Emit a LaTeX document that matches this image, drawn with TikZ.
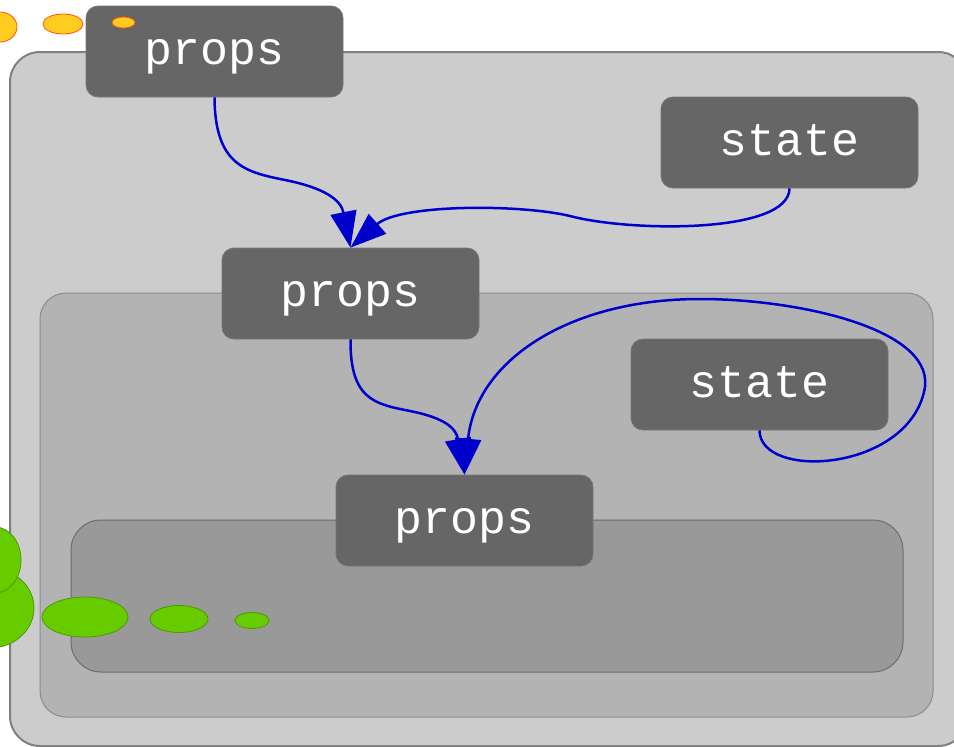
\documentclass[tikz,border=0pt]{standalone}
\usepackage{fontspec}
\setmonofont{Liberation Mono}
\usetikzlibrary{arrows.meta}
\definecolor{boxA}{HTML}{CCCCCC}
\definecolor{boxB}{HTML}{B3B3B3}
\definecolor{boxC}{HTML}{999999}
\definecolor{nodefill}{HTML}{666666}
\definecolor{edgeblue}{HTML}{0000CC}
\definecolor{grn}{HTML}{66CC00}
\definecolor{grnline}{HTML}{4C9A00}
\definecolor{ylw}{HTML}{FFCC22}
\definecolor{ylwline}{HTML}{FF5500}
\tikzset{
  label/.style={rectangle, fill=nodefill, draw=nodefill!90!white, line width=0.8pt,
    rounded corners=12pt, minimum width=257pt, minimum height=91pt, inner sep=0pt,
    text height=32pt, text depth=6pt,
    text=white, font=\ttfamily\fontsize{46.5}{46.5}\selectfont},
  flow/.style={draw=edgeblue, line width=2.5pt, -{Triangle[length=36pt,width=26pt]}},
  greenblob/.style={fill=grn, draw=grnline, line width=0.8pt},
  yellowblob/.style={fill=ylw, draw=ylwline, line width=0.8pt}
}
\begin{document}
\begin{tikzpicture}[x=1pt,y=-1pt]
\useasboundingbox (0,0) rectangle (954,747);
% containers
\draw[fill=boxA, draw=gray, line width=2pt, rounded corners=30pt] (10,52) rectangle (968,746);
\draw[fill=boxB, draw=gray!90, line width=1pt, rounded corners=26pt] (40,293) rectangle (933,717);
\draw[fill=boxC, draw=gray!85!black, line width=1pt, rounded corners=30pt] (71,520) rectangle (903,672);
% nodes
\node[label] (p1) at (214.5,51.5) {props};
\node[label] (s1) at (789.5,142.5) {state};
\node[label] (p2) at (350.5,293.5) {props};
\node[label] (s2) at (759.5,384.5) {state};
\node[label] (p3) at (464.5,520.5) {props};
% decorations
\draw[yellowblob] (0,27) ellipse [x radius=17, y radius=15];
\draw[yellowblob] (63,24) ellipse [x radius=20, y radius=10];
\draw[yellowblob] (123.5,22.5) ellipse [x radius=11.5, y radius=5.5];
\draw[greenblob] (-10,608) ellipse [x radius=44, y radius=40];
\draw[greenblob] (-5,560) ellipse [x radius=26, y radius=33];
\draw[greenblob] (85,617) ellipse [x radius=43, y radius=20];
\draw[greenblob] (179,619) ellipse [x radius=29, y radius=13.5];
\draw[greenblob] (252,620.5) ellipse [x radius=17, y radius=8];
% edges
\draw[flow] (p1.south) .. controls (215,165) and (245,172) .. (285,180)
  .. controls (325,188) and (341,200) .. (p2.north);
\draw[flow] (s1.south) .. controls (789,234) and (630,232) .. (570,216)
  .. controls (520,204) and (400,204) .. (p2.north);
\draw[flow] (p2.south) .. controls (350,400) and (375,404) .. (410,411)
  .. controls (445,418) and (456,428) .. (p3.north);
\draw[flow] (s2.south) .. controls (760,480) and (905,472) .. (924,392)
  .. controls (940,330) and (800,299) .. (700,299)
  .. controls (570,299) and (476,360) .. (p3.north);
\end{tikzpicture}
\end{document}
